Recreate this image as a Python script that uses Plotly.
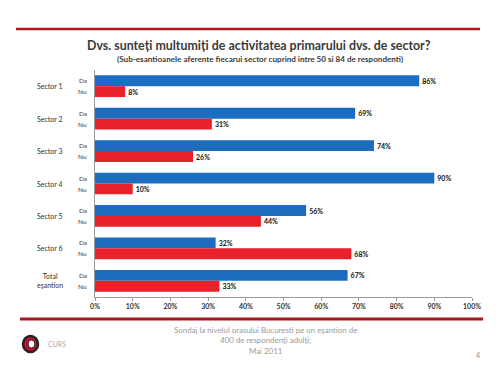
import plotly.graph_objects as go

sectors = ["Sector 1", "Sector 2", "Sector 3", "Sector 4", "Sector 5", "Sector 6", "Total eşantion"]
sector_labels = ["Sector 1", "Sector 2", "Sector 3", "Sector 4", "Sector 5", "Sector 6", "Total<br>eşantion"]
da_values = [0.86, 0.69, 0.74, 0.90, 0.56, 0.32, 0.67]
nu_values = [0.08, 0.31, 0.26, 0.10, 0.44, 0.68, 0.33]
x_ticks = [0, 0.1, 0.2, 0.3, 0.4, 0.5, 0.6, 0.7, 0.8, 0.9, 1.0]

BLUE = "#1c6dc0"
RED = "#e8212b"
DARKRED = "#a8181e"
FONT = "Lato"

fig = go.Figure()
fig.add_trace(go.Bar(
    name="Da", y=sectors, x=da_values, orientation="h",
    marker=dict(color=BLUE, line=dict(width=0)),
    texttemplate="%{x:.0%}", textposition="outside", cliponaxis=False,
    textfont=dict(family=FONT, size=7, color="#111", weight="bold"),
))
fig.add_trace(go.Bar(
    name="Nu", y=sectors, x=nu_values, orientation="h",
    marker=dict(color=RED, line=dict(width=0)),
    texttemplate="%{x:.0%}", textposition="outside", cliponaxis=False,
    textfont=dict(family=FONT, size=7, color="#111", weight="bold"),
))

# The page body adds an 8px offset; the figure is sized/margined so that
# the plot area lands at screen x 95..472, y 70..297.
OFF = 8
W, H = 500 - OFF, 373 - OFF
L, R, T, B = 95 - OFF, 28, 70 - OFF, 76
pw, ph = W - L - R, H - T - B

def px(x):  # screen x -> paper
    return (x - OFF - L) / pw

def py(y):  # screen y -> paper
    return (H - B - (y - OFF)) / ph

annotations = []
for s, lab in zip(sectors, sector_labels):
    annotations.append(dict(x=px(50), y=s, xref="paper", yref="y", text=lab,
                            showarrow=False, xanchor="center", align="center",
                            font=dict(family=FONT, size=7, color="#333")))
    annotations.append(dict(x=px(89), y=s, xref="paper", yref="y", text="Da",
                            showarrow=False, xanchor="right", yshift=5.5,
                            font=dict(family=FONT, size=6.5, color="#333")))
    annotations.append(dict(x=px(89), y=s, xref="paper", yref="y", text="Nu",
                            showarrow=False, xanchor="right", yshift=-5.5,
                            font=dict(family=FONT, size=6.5, color="#333")))

annotations += [
    dict(x=px(259), y=py(45), xref="paper", yref="paper", showarrow=False,
         text="<b>Dvs. sunteți multumiți de activitatea primarului dvs. de sector?</b>",
         font=dict(family=FONT, size=12.4, color="#3a3a3a"), xanchor="center", yanchor="middle"),
    dict(x=px(260), y=py(59), xref="paper", yref="paper", showarrow=False,
         text="<b>(Sub-esantioanele aferente fiecarui sector cuprind intre 50 si 84 de respondenti)</b>",
         font=dict(family=FONT, size=8.1, color="#3a3a3a"), xanchor="center", yanchor="middle"),
    dict(x=px(265), y=py(340), xref="paper", yref="paper", showarrow=False,
         text="Sondaj la nivelul orasului Bucuresti pe un eşantion de<br>400 de respondenţi adulţi;<br>Mai 2011",
         font=dict(family=FONT, size=7.9, color="#9a9a9a"), xanchor="center", yanchor="middle", align="center"),
    dict(x=px(57), y=py(344), xref="paper", yref="paper", showarrow=False,
         text="CURS", font=dict(family=FONT, size=7, color="#aaaaaa"), xanchor="center", yanchor="middle"),
    dict(x=px(478), y=py(355), xref="paper", yref="paper", showarrow=False,
         text="4", font=dict(family=FONT, size=7, color="#888888"), xanchor="center", yanchor="middle"),
]

shapes = [
    dict(type="line", xref="paper", yref="paper",
         x0=px(16), x1=px(480), y0=py(29), y1=py(29),
         line=dict(color=DARKRED, width=2.5)),
    dict(type="line", xref="paper", yref="paper",
         x0=px(20), x1=px(483), y0=py(319), y1=py(319),
         line=dict(color=DARKRED, width=3)),
    # logo
    dict(type="circle", xref="paper", yref="paper", x0=px(23), x1=px(38), y0=py(352), y1=py(336),
         fillcolor="#c8102e", line=dict(color="#222", width=2.5)),
    dict(type="circle", xref="paper", yref="paper", x0=px(28), x1=px(35), y0=py(348), y1=py(340),
         fillcolor="#ffffff", line=dict(color="#222", width=1)),
]

fig.update_layout(
    width=W, height=H,
    margin=dict(l=L, r=R, t=T, b=B),
    paper_bgcolor="white", plot_bgcolor="white",
    barmode="group", bargap=0.33, bargroupgap=0,
    showlegend=False,
    font=dict(family=FONT),
    xaxis=dict(range=[0, 1], tickvals=x_ticks, tickformat=".0%",
               showgrid=False, zeroline=False, showline=True, linecolor="#9a9a9a", linewidth=1,
               ticks="outside", ticklen=3, tickcolor="#9a9a9a",
               tickfont=dict(family=FONT, size=7, color="#333", weight="bold")),
    yaxis=dict(autorange="reversed", showticklabels=False, showgrid=False, zeroline=False,
               showline=True, linecolor="#9a9a9a", linewidth=1, ticks=""),
    annotations=annotations,
    shapes=shapes,
)

fig.write_html("out.html")
